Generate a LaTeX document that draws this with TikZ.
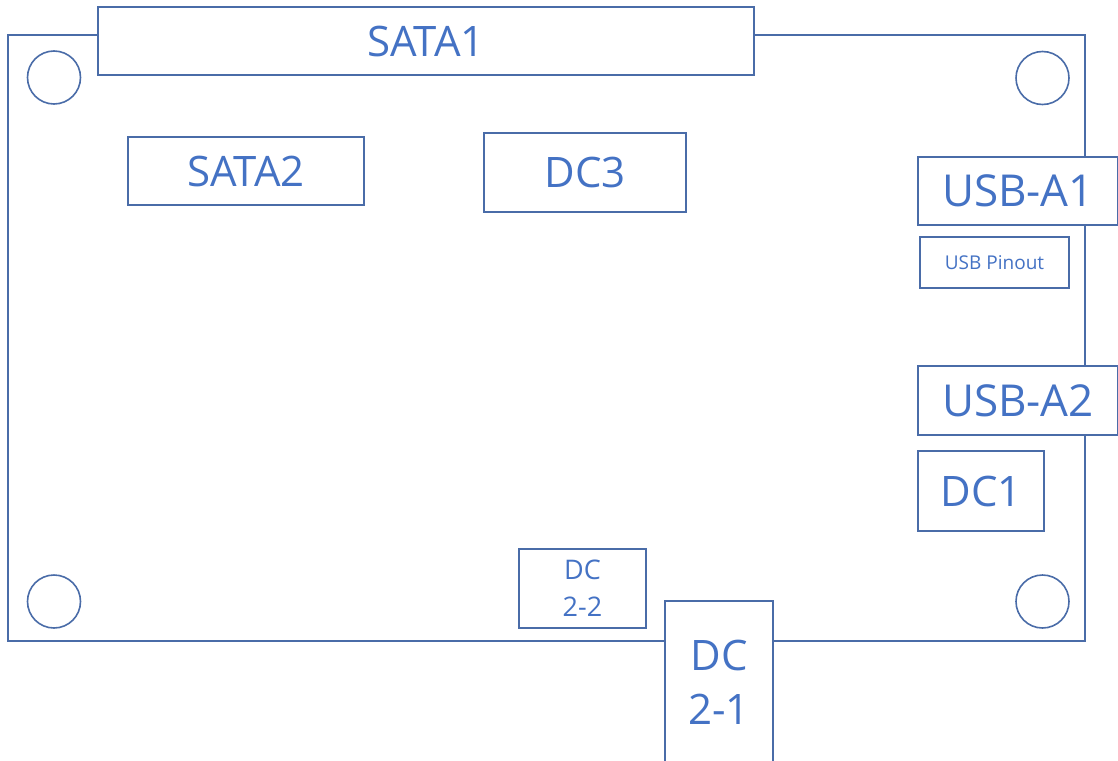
\documentclass[tikz,border=0pt]{standalone}
\usepackage{fontspec}
\setmainfont{Open Sans}
\definecolor{linec}{HTML}{4A6CA8}
\definecolor{textc}{HTML}{4472C4}
\begin{document}
\begin{tikzpicture}[x=1pt,y=-1pt,
  part/.style={draw=linec,line width=1.6pt,fill=white,rectangle,inner sep=0pt,
    text=textc,align=center,font=\fontsize{42}{54}\selectfont},
  hole/.style={draw=linec,line width=1.6pt,circle,inner sep=0pt,minimum size=53pt}]
\useasboundingbox (0,0) rectangle (1118,760);
% board outline
\draw[linec,line width=1.6pt] (8,35) rectangle (1085,641);
% mounting holes
\node[hole] (h1) at (54,77.5) {};
\node[hole] (h2) at (1042.5,78) {};
\node[hole] (h3) at (54,601.5) {};
\node[hole] (h4) at (1042.5,601.5) {};
% connectors
\node[part,minimum width=656pt,minimum height=68pt] (sata1) at (426,41) {SATA1};
\node[part,minimum width=236pt,minimum height=68pt] (sata2) at (246,171) {SATA2};
\node[part,minimum width=202pt,minimum height=79pt] (dc3) at (585,172.5) {DC3};
\node[part,minimum width=200pt,minimum height=68pt,font=\fontsize{44}{54}\selectfont] (usba1) at (1018,191) {USB-A1};
\node[part,minimum width=149pt,minimum height=51pt,font=\fontsize{19}{24}\selectfont,text depth=0pt] (usbpin) at (994.5,262.5) {USB Pinout};
\node[part,minimum width=200pt,minimum height=69pt,font=\fontsize{44}{54}\selectfont] (usba2) at (1018,400.5) {USB-A2};
\node[part,minimum width=126pt,minimum height=80pt] (dc1) at (981,491) {DC1};
\node[part,minimum width=127pt,minimum height=79pt,font=\fontsize{27}{37}\selectfont] (dc22) at (582.5,588.5) {DC\\2-2};
\node[part,minimum width=108pt,minimum height=162pt,font=\fontsize{42}{54}\selectfont] (dc21) at (719,682) {DC\\2-1};
\end{tikzpicture}
\end{document}
